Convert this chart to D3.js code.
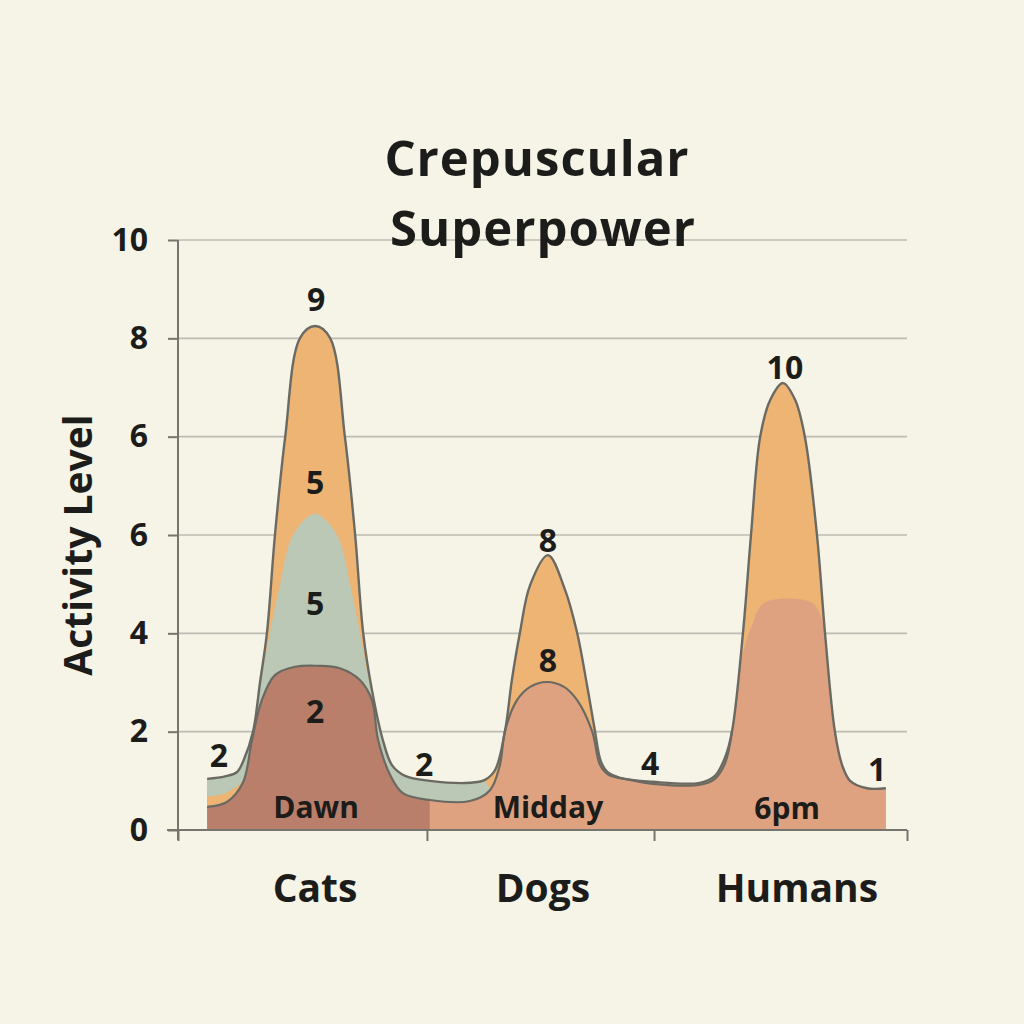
<!DOCTYPE html>
<html>
<head>
<meta charset="utf-8">
<script src="https://cdn.jsdelivr.net/npm/d3@7"></script>
<style>
  body { margin: 0; background: #f6f4e7; }
  text { font-family: "Open Sans", "DejaVu Sans", sans-serif; font-weight: 700; fill: #1c1c1a; }
</style>
</head>
<body>
<div id="chart"></div>
<script>
/* CONSTANTS AND GLOBALS */
const width = 1024,
  height = 1024,
  margin = ({top: 240, right: 117, bottom: 194, left: 178})

// categories along the bottom and where the boundary ticks sit (hour of day)
const categories = ["Cats", "Dogs", "Humans"];
const categoryHours = [5.76, 12.01, 18.98];
const boundaryHours = [2, 8.83, 15.06, 22];

// y ticks are evenly spaced but labelled as in the original
const yTickValues = [0, 2, 4, 6, 8, 10, 12];
const yTickLabels = ["0", "2", "4", "6", "6", "8", "10"];

// outer envelope (orange layer) : [hour, activity]
const envelope = [
  [2.80, 1.04], [3.29, 1.09], [3.62, 1.18], [3.80, 1.42], [4.06, 2.01], [4.25, 3.0], [4.44, 4.01],
  [4.66, 6.00], [4.94, 7.99], [5.35, 10.01], [5.76, 10.25], [6.17, 10.01], [6.58, 7.99],
  [6.86, 6.00], [7.08, 4.01], [7.32, 2.85], [7.62, 1.83], [7.87, 1.32], [8.23, 1.10],
  [8.91, 1.00], [10.01, 0.96], [10.42, 1.02], [10.70, 1.22], [10.97, 2.01], [11.16, 3.05],
  [11.38, 4.01], [11.66, 4.98], [12.15, 5.59], [12.62, 4.88], [12.95, 4.01], [13.22, 2.95],
  [13.44, 2.01], [13.60, 1.40], [13.78, 1.18], [14.13, 1.06], [15.03, 0.98], [16.32, 0.96],
  [16.73, 1.10], [17.01, 1.48], [17.20, 2.01], [17.50, 4.01], [17.72, 6.00], [17.97, 7.99],
  [18.25, 8.75], [18.60, 9.09], [18.93, 8.75], [19.20, 7.99], [19.53, 6.00], [19.75, 4.01],
  [20.02, 2.01], [20.22, 1.32], [20.44, 1.00], [20.90, 0.85], [21.42, 0.85]
];

// green layer (cats)
const greenTop = [
  [2.80, 1.04], [3.29, 1.09], [3.62, 1.18], [3.80, 1.42], [4.06, 2.01], [4.25, 2.9], [4.52, 4.0],
  [4.80, 5.0], [5.16, 6.0], [5.76, 6.43], [6.36, 6.0], [6.72, 5.0], [6.99, 4.0],
  [7.32, 2.75], [7.62, 1.83], [7.87, 1.32], [8.23, 1.10], [8.91, 1.00], [10.01, 0.96],
  [10.42, 0.98], [10.56, 0.81]
];

// band of orange between the green and the brown on the far left
const orangeSliver = [[2.80, 0.68], [3.20, 0.72], [3.55, 0.85], [3.80, 1.0]];

// base layer (brown for cats, salmon for dogs and humans)
const baseTop = [
  [2.80, 0.47], [3.34, 0.57], [3.78, 0.96], [4.03, 1.83], [4.30, 2.64], [4.66, 3.15],
  [5.21, 3.32], [5.84, 3.34], [6.44, 3.29], [6.99, 3.05], [7.32, 2.64], [7.49, 1.83],
  [7.82, 1.12], [8.17, 0.75], [8.91, 0.61], [10.01, 0.59], [10.56, 0.81], [10.83, 1.32],
  [10.97, 2.01], [11.30, 2.64], [11.66, 2.91], [12.12, 3.01], [12.59, 2.91], [12.95, 2.64],
  [13.36, 2.01], [13.58, 1.32], [13.80, 1.13], [14.40, 1.02], [15.03, 0.94], [16.32, 0.92],
  [16.73, 1.04], [17.01, 1.36], [17.20, 2.01], [17.48, 3.52], [17.75, 4.17], [18.08, 4.62],
  [19.40, 4.62], [19.67, 4.27], [19.75, 4.01], [20.02, 2.01], [20.22, 1.32], [20.44, 1.00],
  [20.90, 0.85], [21.42, 0.85]
];
const baseLineEnd = 17.2;   // base outline stops where the humans plateau starts
const brownEnd = 8.91;      // brown part of the base ends here

// value labels : text, hour, activity
const valueLabels = ["9", "5", "5", "2", "2", "2", "8", "8", "4", "10", "1"];
const valueHours = [5.79, 5.76, 5.76, 5.76, 3.12, 8.75, 12.15, 12.15, 14.95, 18.65, 21.18];
const valueLevels = [10.82, 7.08, 4.62, 2.44, 1.53, 1.36, 5.90, 3.46, 1.38, 9.42, 1.26];

const timeLabels = ["Dawn", "Midday", "6pm"];
const timeHours = [5.79, 12.15, 18.71];
const timeLevels = [0.47, 0.47, 0.45];

const colors = {
  orange: "#eeb474",
  green: "#bac8b5",
  brown: "#b97f6b",
  salmon: "#dfa281",
  outline: "#6a6a63",
  grid: "#bdbcb2",
  axis: "#75756d"
};

let svg, x, y;

init();

function init() {
  x = d3.scaleLinear()
    .domain([2, 22])
    .range([margin.left, width - margin.right]);

  y = d3.scaleLinear()
    .domain([0, 12])
    .range([height - margin.bottom, margin.top]);

  svg = d3.select("#chart")
    .append("svg")
    .attr("width", width)
    .attr("height", height);

  svg.append("rect")
    .attr("width", width)
    .attr("height", height)
    .attr("fill", "#f6f4e7");

  // gridlines
  svg.append("g")
    .selectAll("line")
    .data(yTickValues.filter(d => d > 0))
    .join("line")
    .attr("x1", x(2))
    .attr("x2", x(22))
    .attr("y1", d => y(d))
    .attr("y2", d => y(d))
    .attr("stroke", colors.grid)
    .attr("stroke-width", 1.6);

  // title
  svg.append("text")
    .attr("x", 537)
    .attr("y", 176)
    .attr("text-anchor", "middle")
    .style("font-size", "49px")
    .style("letter-spacing", "1px")
    .text("Crepuscular");
  svg.append("text")
    .attr("x", 543)
    .attr("y", 246)
    .attr("text-anchor", "middle")
    .style("font-size", "49px")
    .style("letter-spacing", "1px")
    .text("Superpower");

  draw();
  drawAxes();
}

function draw() {
  const curve = d3.curveCatmullRom.alpha(0.5);

  const area = d3.area()
    .x(d => x(d[0]))
    .y0(y(0))
    .y1(d => y(d[1]))
    .curve(curve);

  const line = d3.line()
    .x(d => x(d[0]))
    .y(d => y(d[1]))
    .curve(curve);

  const defs = svg.append("defs");
  defs.append("clipPath").attr("id", "clip-brown")
    .append("rect")
    .attr("x", x(2)).attr("y", 0)
    .attr("width", x(brownEnd) - x(2)).attr("height", height);
  defs.append("clipPath").attr("id", "clip-salmon")
    .append("rect")
    .attr("x", x(brownEnd)).attr("y", 0)
    .attr("width", x(22) - x(brownEnd)).attr("height", height);

  svg.append("path")
    .attr("d", area(envelope))
    .attr("fill", colors.orange);

  svg.append("path")
    .attr("d", area(greenTop))
    .attr("fill", colors.green);

  svg.append("path")
    .attr("d", area(orangeSliver))
    .attr("fill", colors.orange);

  svg.append("path")
    .attr("d", area(baseTop))
    .attr("fill", colors.brown)
    .attr("clip-path", "url(#clip-brown)");

  svg.append("path")
    .attr("d", area(baseTop))
    .attr("fill", colors.salmon)
    .attr("clip-path", "url(#clip-salmon)");

  // outlines
  svg.append("path")
    .attr("d", line(baseTop.filter(d => d[0] <= baseLineEnd)))
    .attr("fill", "none")
    .attr("stroke", colors.outline)
    .attr("stroke-width", 2.2);

  svg.append("path")
    .attr("d", line(envelope))
    .attr("fill", "none")
    .attr("stroke", colors.outline)
    .attr("stroke-width", 2.4);

  // value labels
  svg.append("g")
    .selectAll("text")
    .data(valueLabels)
    .join("text")
    .attr("x", (d, i) => x(valueHours[i]))
    .attr("y", (d, i) => y(valueLevels[i]))
    .attr("text-anchor", "middle")
    .attr("dominant-baseline", "central")
    .style("font-size", "32px")
    .text(d => d);

  svg.append("g")
    .selectAll("text")
    .data(timeLabels)
    .join("text")
    .attr("x", (d, i) => x(timeHours[i]))
    .attr("y", (d, i) => y(timeLevels[i]))
    .attr("text-anchor", "middle")
    .attr("dominant-baseline", "central")
    .style("font-size", "30px")
    .text(d => d);
}

function drawAxes() {
  const yAxis = d3.axisLeft(y)
    .tickValues(yTickValues)
    .tickFormat((d, i) => yTickLabels[i])
    .tickSize(10)
    .tickPadding(20);

  const yG = svg.append("g")
    .attr("transform", `translate(${margin.left},0)`)
    .call(yAxis);
  yG.select(".domain").remove();
  yG.selectAll("line").attr("stroke", colors.axis).attr("stroke-width", 2);
  yG.selectAll("text")
    .style("font-size", "32px")
    .style("font-family", "\"Open Sans\", sans-serif")
    .attr("fill", "#1c1c1a");

  svg.append("line")
    .attr("x1", margin.left).attr("x2", margin.left)
    .attr("y1", y(12)).attr("y2", y(0) + 10)
    .attr("stroke", colors.axis)
    .attr("stroke-width", 2);

  const xAxis = d3.axisBottom(x)
    .tickValues(boundaryHours)
    .tickFormat("")
    .tickSize(11)
    .tickSizeOuter(0);

  const xG = svg.append("g")
    .attr("transform", `translate(0,${y(0)})`)
    .call(xAxis);
  xG.select(".domain")
    .attr("d", `M${margin.left - 11},0H${x(22)}`)
    .attr("stroke", colors.axis)
    .attr("stroke-width", 2);
  xG.selectAll("line").attr("stroke", colors.axis).attr("stroke-width", 2);

  svg.append("g")
    .selectAll("text")
    .data(categories)
    .join("text")
    .attr("x", (d, i) => x(categoryHours[i]))
    .attr("y", y(0) + 56)
    .attr("text-anchor", "middle")
    .attr("dominant-baseline", "central")
    .style("font-size", "39px")
    .text(d => d);

  svg.append("text")
    .attr("transform", `translate(76,${545}) rotate(-90)`)
    .attr("text-anchor", "middle")
    .attr("dominant-baseline", "central")
    .style("font-size", "39px")
    .text("Activity Level");
}
</script>
</body>
</html>
